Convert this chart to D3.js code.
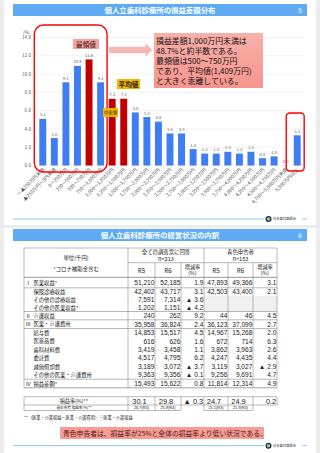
<!DOCTYPE html>
<html>
<head>
<meta charset="utf-8">
<script src="https://cdn.jsdelivr.net/npm/d3@7"></script>
<style>
  body { margin: 0; background: #ececec; }
  svg { display: block; font-family: "Noto Sans CJK JP", "Noto Sans", sans-serif; }
  .num { font-family: "Liberation Sans", "DejaVu Sans", sans-serif; }
</style>
</head>
<body>
<script>
// ---- chart data (slide 5) ----
var categories = ["～▲250万円未満", "▲250万円～0円未満", "0～250万円", "250～500万円", "500～750万円",
  "750～1,000万円", "1,000～1,250万円", "1,250～1,500万円", "1,500～1,750万円", "1,750～2,000万円",
  "2,000～2,250万円", "2,250～2,500万円", "2,500～2,750万円", "2,750～3,000万円", "3,000～3,250万円",
  "3,250～3,500万円", "3,500～3,750万円", "3,750～4,000万円", "4,000～4,250万円", "4,250～4,500万円",
  "4,500～4,750万円", "4,750～5,000万円未満", "5,000万円以上"];
var shares = [5.1, 3.0, 9.1, 10.9, 11.6, 9.1, 7.3, 7.3, 5.8, 5.3, 4.8, 3.5, 3.5, 1.8, 1.3, 1.3, 1.5, 1.3, 1.5, 0.8, 1.0, 0.0, 3.3];
var redBars = ["500～750万円", "1,000～1,250万円", "1,250～1,500万円"];
var yTicks = [0, 2, 4, 6, 8, 10, 12, 14];
var noteLines = ["損益差額1,000万円未満は", "48.7%と約半数である。", "最頻値は500～750万円", "であり、平均値(1,409万円)", "と大きく乖離している。"];

// ---- table data (slide 6) ----
var roman = ["Ⅰ", "", "", "", "Ⅱ", "Ⅲ", "", "", "", "", "", "", "Ⅳ"];
var rowLabels = ["医業収益*", "保険診療収益", "その他の診療収益", "その他の医業収益*", "介護収益", "医業・介護費用",
  "給与費", "医薬品費", "歯科材料費", "委託費", "減価償却費", "その他の医業・介護費用", "損益差額*"];
var allR5 = ["51,210", "42,402", "7,591", "1,202", "240", "35,958", "14,853", "616", "3,419", "4,517", "3,189", "9,363", "15,493"];
var allR6 = ["52,185", "43,717", "7,314", "1,151", "262", "36,824", "15,517", "626", "3,458", "4,795", "3,072", "9,356", "15,622"];
var allRate = ["1.9", "3.1", "▲ 3.6", "▲ 4.2", "9.2", "2.4", "4.5", "1.6", "1.1", "6.2", "▲ 3.7", "▲ 0.1", "0.8"];
var blueR5 = ["47,893", "42,503", null, null, "44", "36,123", "14,967", "672", "3,862", "4,247", "3,119", "9,256", "11,814"];
var blueR6 = ["49,366", "43,400", null, null, "46", "37,099", "15,268", "714", "3,963", "4,435", "3,027", "9,691", "12,314"];
var blueRate = ["3.1", "2.1", null, null, "4.5", "2.7", "2.0", "6.3", "2.6", "4.4", "▲ 2.9", "4.7", "4.9"];
var ratioRow = ["30.1", "29.8", "▲ 0.3", "24.7", "24.9", "0.2"];
var pastRow = ["26.7(R3)", "25.9(R4)", null, "21.1(R3)", "21.9(R4)", null];

var blue = "#3f7df2", red = "#c00000", grey = "#595959";

var svg = d3.select("body").append("svg").attr("width", 320).attr("height", 453);

// slides
svg.append("rect").attr("x", 4).attr("y", 0).attr("width", 312).attr("height", 225).attr("fill", "#fff");
svg.append("rect").attr("x", 4).attr("y", 228).attr("width", 312).attr("height", 225).attr("fill", "#fff");

function titleBar(y, text, num) {
  var g = svg.append("g");
  g.append("rect").attr("x", 13).attr("y", y).attr("width", 294).attr("height", 12).attr("fill", "#5eabf3");
  g.append("text").attr("x", 160).attr("y", y + 8.8).attr("text-anchor", "middle")
    .attr("font-size", 7.4).attr("font-weight", "bold").attr("fill", "#fff").text(text);
  g.append("text").attr("x", 300).attr("y", y + 8.5).attr("text-anchor", "middle")
    .attr("font-size", 6.5).attr("fill", "#fff").text(num);
}
function footer(y) {
  svg.append("line").attr("x1", 13).attr("x2", 264).attr("y1", y).attr("y2", y).attr("stroke", "#8cc6f2").attr("stroke-width", 1);
  svg.append("line").attr("x1", 302).attr("x2", 307).attr("y1", y).attr("y2", y).attr("stroke", "#8cc6f2").attr("stroke-width", 1);
  svg.append("circle").attr("cx", 268.5).attr("cy", y).attr("r", 3).attr("fill", "#1c2b6e");
  svg.append("circle").attr("cx", 268.5).attr("cy", y).attr("r", 1.7).attr("fill", "#b9c94a");
  svg.append("text").attr("x", 273).attr("y", y + 1.2).attr("font-size", 3.3).attr("fill", "#333").text("日本歯科医師会");
}

titleBar(4, "個人立歯科診療所の損益差額分布", "5");
footer(219);

// ---- bar chart ----
var x = d3.scaleBand().domain(categories).range([37, 303]).paddingInner(0.4).paddingOuter(0.2);
var y = d3.scaleLinear().domain([0, 14]).range([165.5, 37.5]);

svg.append("g").selectAll("line").data(yTicks).join("line")
  .attr("x1", 35).attr("x2", 305).attr("y1", d => y(d)).attr("y2", d => y(d))
  .attr("stroke", "#e6e6e6").attr("stroke-width", 0.5);

svg.append("g").selectAll("text").data(yTicks).join("text")
  .attr("x", 31).attr("y", d => y(d) + 1.6).attr("text-anchor", "end")
  .attr("font-size", 4.6).attr("fill", grey).text(d => d3.format(".1f")(d));
svg.append("text").attr("x", 23).attr("y", 34).attr("font-size", 4.2).attr("fill", grey).text("(%)");

svg.append("g").selectAll("rect").data(categories).join("rect")
  .attr("x", d => x(d)).attr("width", x.bandwidth())
  .attr("y", (d, i) => y(shares[i])).attr("height", (d, i) => y(0) - y(shares[i]))
  .attr("fill", d => redBars.indexOf(d) >= 0 ? red : blue);

svg.append("g").selectAll("text").data(categories).join("text")
  .attr("x", d => x(d) + x.bandwidth() / 2).attr("y", (d, i) => y(shares[i]) - 2.5)
  .attr("text-anchor", "middle").attr("font-size", 4.2).attr("fill", grey)
  .text((d, i) => d3.format(".1f")(shares[i]));

svg.append("g").selectAll("text").data(categories).join("text")
  .attr("transform", d => "translate(" + (x(d) + x.bandwidth() / 2 + 2) + ",170) rotate(-45)")
  .attr("text-anchor", "end").attr("font-size", 4.8).attr("fill", grey).text(d => d);

// highlight frames
var bw = x.bandwidth();
svg.append("rect").attr("x", x(categories[0]) - 5).attr("y", 25)
  .attr("width", x(categories[5]) + bw + 3 - (x(categories[0]) - 5)).attr("height", 147)
  .attr("rx", 9).attr("fill", "none").attr("stroke", "#ff0000").attr("stroke-width", 1.4);
svg.append("rect").attr("x", x(categories[22]) - 7.5).attr("y", 113)
  .attr("width", bw + 11).attr("height", 58)
  .attr("rx", 3.5).attr("fill", "none").attr("stroke", "#ff0000").attr("stroke-width", 1.4);

// labels
svg.append("rect").attr("x", 73).attr("y", 39).attr("width", 26).attr("height", 10).attr("fill", "#f4a29b");
svg.append("text").attr("x", 86).attr("y", 46.6).attr("text-anchor", "middle").attr("font-size", 6.6).attr("fill", "#3a1010").text("最頻値");
svg.append("rect").attr("x", 117).attr("y", 79).attr("width", 23).attr("height", 10).attr("fill", "#f7b500");
svg.append("text").attr("x", 128.5).attr("y", 86.6).attr("text-anchor", "middle").attr("font-size", 6.6).attr("font-weight", "bold").attr("fill", "#222").text("平均値");
svg.append("rect").attr("x", 103).attr("y", 108).attr("width", 15).attr("height", 9).attr("fill", "#f7b500");
svg.append("text").attr("x", 110.5).attr("y", 114.2).attr("text-anchor", "middle").attr("font-size", 4.3).attr("fill", "#222").text("中央値");

svg.append("path")
  .attr("d", "M109,46.7 L145.5,46.7 L145.5,43.3 L152.3,50 L145.5,56.7 L145.5,53.3 L109,53.3 Z")
  .attr("fill", "#f7b8b3");

var grad = svg.append("defs").append("linearGradient").attr("id", "pk").attr("x1", 0).attr("y1", 0).attr("x2", 0).attr("y2", 1);
grad.append("stop").attr("offset", 0).attr("stop-color", "#f9b0a9");
grad.append("stop").attr("offset", 1).attr("stop-color", "#f6958e");
svg.append("rect").attr("x", 154).attr("y", 33).attr("width", 109).attr("height", 55).attr("fill", "url(#pk)");
svg.append("g").selectAll("text").data(noteLines).join("text")
  .attr("x", 156).attr("y", (d, i) => 43.6 + i * 10).attr("font-size", 7.9).attr("fill", "#111").text(d => d);

// ---- slide 6 table ----
titleBar(229, "個人立歯科診療所の経営状況の内訳", "6");
footer(445.7);

var colX = [24, 128, 155, 181, 204, 228, 253, 277];
var rowH = [10.5, 7.9, 7.9, 7.9, 8.3, 8.7, 8.45, 8.45, 8.45, 8.45, 8.45, 8.45, 8.6];
var rowTop = [277.3];
rowH.forEach((h, i) => rowTop.push(rowTop[i] + h));
var ln = "#8a8a8a", tf = 6.6;
var t = svg.append("g");

// grey cells
[2, 3].forEach(r => t.append("rect").attr("x", colX[4]).attr("y", rowTop[r]).attr("width", colX[7] - colX[4])
  .attr("height", rowH[r]).attr("fill", "#f0f0f0"));

function hline(x1, x2, yy, w) {
  t.append("line").attr("x1", x1).attr("x2", x2).attr("y1", yy).attr("y2", yy).attr("stroke", ln).attr("stroke-width", w || 0.6);
}
function vline(xx, y1, y2) {
  t.append("line").attr("x1", xx).attr("x2", xx).attr("y1", y1).attr("y2", y2).attr("stroke", ln).attr("stroke-width", 0.6);
}
hline(colX[0], colX[7], 248);
hline(colX[1], colX[7], 262.7);
hline(colX[0], colX[7], 277.3, 0.9);
[1, 4, 5, 6, 12, 13].forEach(r => hline(colX[0], colX[7], rowTop[r], r == 13 ? 0.8 : 0.6));
colX.forEach((cx, i) => {
  var top = (i == 2 || i == 3 || i == 5 || i == 6) ? 262.7 : 248;
  vline(cx, top, rowTop[13]);
});

// headers
function txt(xx, yy, s, size, anchor, col, cls) {
  t.append("text").attr("class", cls || null).attr("x", xx).attr("y", yy).attr("font-size", size).attr("text-anchor", anchor || "middle")
    .attr("fill", col || "#222").text(s);
}
txt(76, 260, "単位(千円)", 5.4);
txt(76, 270.5, "*コロナ補助金含む", 5.4);
txt(166, 253.6, "全ての調査票に回答", 5.4);
txt(166, 260.5, "n=213", 5.6);
txt(240.5, 253.6, "青色申告者", 5.4);
txt(240.5, 260.5, "n=183", 5.6);
[[1, "R5"], [2, "R6"], [4, "R5"], [5, "R6"]].forEach(p => txt((colX[p[0]] + colX[p[0] + 1]) / 2, 272.5, p[1], 6.2));
[3, 6].forEach(c => {
  txt((colX[c] + colX[c + 1]) / 2, 268.5, "増減率", 5.2);
  txt((colX[c] + colX[c + 1]) / 2, 275, "(%)", 5.2);
});

// body
rowLabels.forEach((lab, r) => {
  var cy = rowTop[r] + rowH[r] / 2 + 2.1;
  if (roman[r]) txt(25.5, cy, roman[r], 5.4, "start");
  txt(33.5, cy, lab, 5.3, "start");
  var vals = [allR5[r], allR6[r], allRate[r], blueR5[r], blueR6[r], blueRate[r]];
  vals.forEach((v, c) => { if (v) txt(colX[c + 2] - 0.6, cy + 0.3, v, tf, "end", "#222", "num"); });
});

// ratio table
var rt = 396.7, rm = 405, rb = 410.5;
hline(colX[0], colX[7], rt);
hline(colX[0], colX[7], rm);
[0, 1, 2, 4, 5].forEach(c => hline(colX[c], colX[c + 1], rb));
colX.forEach((cx, i) => vline(cx, rt, rm));
[0, 1, 2, 3, 4, 5, 6].forEach(i => vline(colX[i], rm, rb));
txt(74, 403, "損益率(%)**", 5.2);
txt(74, 409, "過去参考 損益率(%)**", 3.6);
ratioRow.forEach((v, c) => {
  if (c == 2 || c == 5) txt(colX[c + 2] - 0.8, 403.8, v, 7.4, "end", "#222", "num");
  else txt((colX[c + 1] + colX[c + 2]) / 2 - 2, 403.8, v, 7.4, "middle", "#222", "num");
});
pastRow.forEach((v, c) => { if (v) txt((colX[c + 1] + colX[c + 2]) / 2, 409.2, v, 3.9, "middle", "#222", "num"); });
txt(24, 419, "**（医業・介護収益－医業・介護費用）÷医業・介護収益", 4.2, "start");

svg.append("rect").attr("x", 60).attr("y", 427).attr("width", 204).attr("height", 12).attr("fill", "#f59d96");
svg.append("text").attr("x", 63).attr("y", 435.6).attr("font-size", 6.8).attr("fill", "#5a1414")
  .text("青色申告者は、損益率が25%と全体の損益率より低い状況である。");
</script>
</body>
</html>
